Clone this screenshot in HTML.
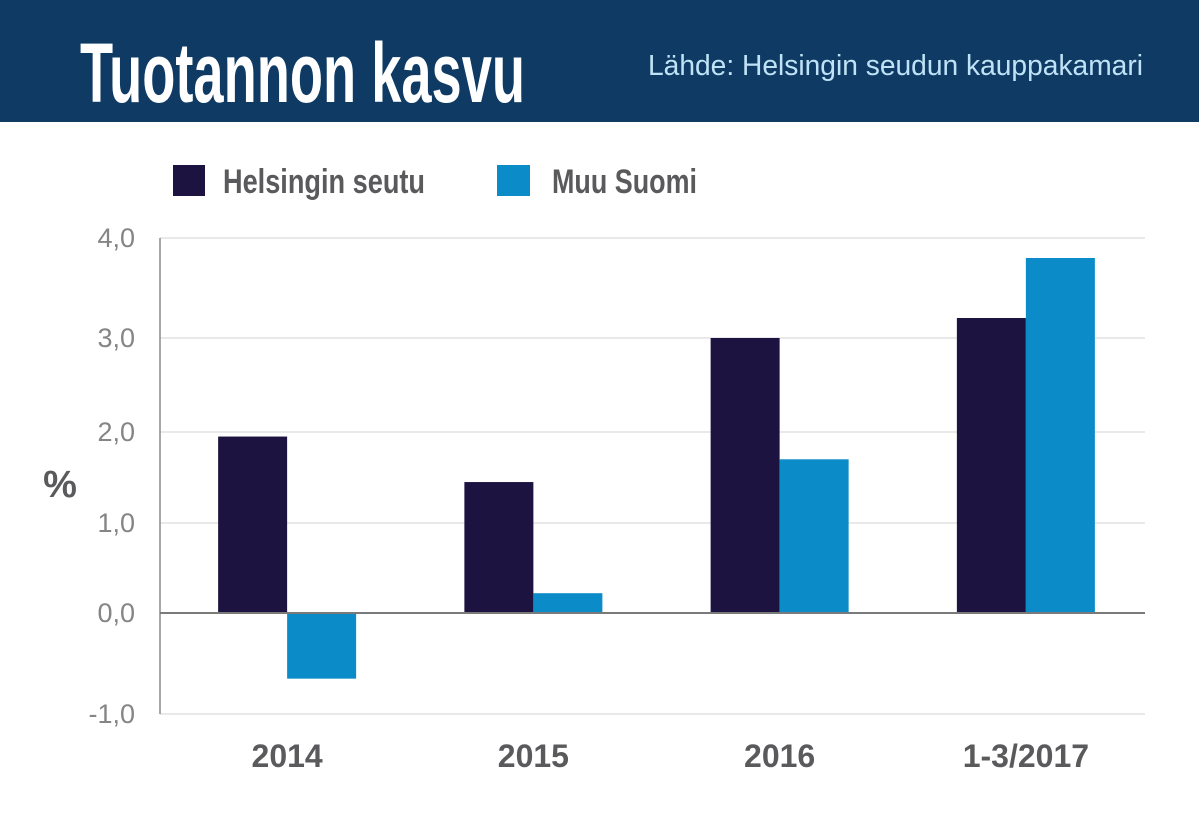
<!DOCTYPE html>
<html><head><meta charset="utf-8"><style>
html,body{margin:0;padding:0;background:#fff;}
svg{display:block;font-family:"Liberation Sans",sans-serif;}
</style></head><body>
<svg id="chart" width="1199" height="815" viewBox="0 0 1199 815">
<rect x="0" y="0" width="1199" height="122" fill="#0e3a64"/>
<text x="80" y="102" font-size="84" font-weight="bold" fill="#fff" textLength="445" lengthAdjust="spacingAndGlyphs">Tuotannon kasvu</text>
<text x="648" y="75" font-size="29" fill="#bfe2f6" textLength="495" lengthAdjust="spacingAndGlyphs">Lähde: Helsingin seudun kauppakamari</text>
<rect x="173" y="165" width="32" height="31" fill="#1c1340"/>
<text x="223" y="193" font-size="34" font-weight="bold" fill="#5a5a5c" textLength="202" lengthAdjust="spacingAndGlyphs">Helsingin seutu</text>
<rect x="497" y="165" width="33" height="31" fill="#0b8cc8"/>
<text x="552" y="193" font-size="34" font-weight="bold" fill="#5a5a5c" textLength="145" lengthAdjust="spacingAndGlyphs">Muu Suomi</text>
<text x="60" y="497" font-size="38" font-weight="bold" fill="#5a5a5c" text-anchor="middle">%</text>
<g id="grid"></g><g id="bars"></g><g id="axes"></g>
</svg>
<script>
const categories = ["2014", "2015", "2016", "1-3/2017"];
const helsinkiValues = [1.95, 1.45, 3.0, 3.2];
const muuSuomiValues = [-0.65, 0.22, 1.7, 3.8];
const tickValues = [-1, 0, 1, 2, 3, 4];
const tickLabels = ["-1,0", "0,0", "1,0", "2,0", "3,0", "4,0"];

const NS = "http://www.w3.org/2000/svg";
const plotLeft = 160, plotRight = 1145;
// reference gridline pixel rows for the tick values (layout of the original graphic)
const gridRows = [714, 613, 523, 432, 338, 238];
function y(v) {
  for (let i = 0; i < tickValues.length - 1; i++) {
    const a = tickValues[i], b = tickValues[i + 1];
    if (v <= b || i === tickValues.length - 2) {
      return gridRows[i] + (v - a) / (b - a) * (gridRows[i + 1] - gridRows[i]);
    }
  }
}
const groupW = (plotRight - plotLeft) / categories.length;
function xCenter(i) { return plotLeft + groupW * (i + 0.5) + 4; }
const barW = 69;
function mk(tag, attrs, parent) {
  const e = document.createElementNS(NS, tag);
  for (const k in attrs) e.setAttribute(k, attrs[k]);
  parent.appendChild(e);
  return e;
}
const grid = document.getElementById("grid");
const bars = document.getElementById("bars");
const axes = document.getElementById("axes");
tickValues.forEach((t, i) => {
  if (t !== 0) {
    const l = mk("line", {x1: plotLeft, x2: plotRight, y1: y(t), y2: y(t), stroke: "#dcdcdc", "stroke-width": 1.2}, grid);
    
    
  }
  const tx = mk("text", {x: 135, y: y(t) + 9, "font-size": 27, fill: "#858587", "text-anchor": "end"}, axes);
  tx.textContent = tickLabels[i];
  
  
});
categories.forEach((c, i) => {
  const cx = xCenter(i);
  const h = helsinkiValues[i], m = muuSuomiValues[i];
  const b1 = mk("rect", {x: cx - barW, y: Math.min(y(h), y(0)), width: barW, height: Math.abs(y(h) - y(0)), fill: "#1c1340"}, bars);
  
  
  const b2 = mk("rect", {x: cx, y: Math.min(y(m), y(0)), width: barW, height: Math.abs(y(m) - y(0)), fill: "#0b8cc8"}, bars);
  
  
  const lbl = mk("text", {x: cx, y: 767, "font-size": 32, "font-weight": "bold", fill: "#5a5a5c", "text-anchor": "middle"}, axes);
  lbl.textContent = c;
  
  
});
const ya = mk("line", {x1: plotLeft, x2: plotLeft, y1: y(4), y2: y(-1), stroke: "#8a8a8a", "stroke-width": 1.5}, axes);


const zl = mk("line", {x1: plotLeft, x2: plotRight, y1: y(0), y2: y(0), stroke: "#7a7a7a", "stroke-width": 2}, axes);


</script>
</body></html>
